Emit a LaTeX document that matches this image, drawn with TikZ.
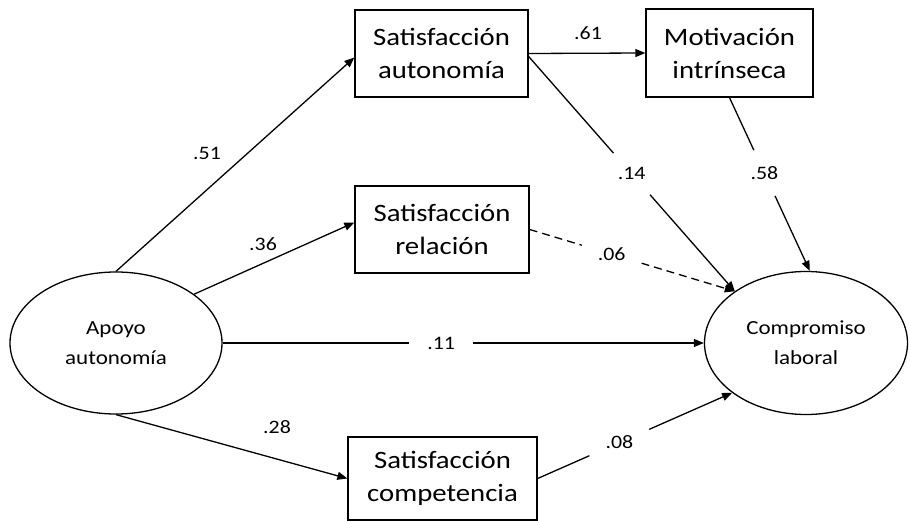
\documentclass[tikz,border=0pt]{standalone}
\usepackage{fontspec}
\setmainfont[FakeStretch=1.15]{Carlito}
\usetikzlibrary{arrows.meta,shapes.geometric}
\begin{document}
\begin{tikzpicture}[x=1pt,y=-1pt,
  box/.style={draw,line width=1.3pt,rectangle,inner sep=0pt,align=center,font=\fontsize{25}{33}\selectfont},
  lat/.style={draw,line width=1.3pt,ellipse,inner sep=0pt,align=center,font=\fontsize{20}{30}\selectfont},
  lbl/.style={font=\fontsize{19}{22}\selectfont,inner sep=0pt},
  gapnode/.style={circle,inner sep=0pt,minimum size=#1,font=\fontsize{19}{22}\selectfont},
  arr/.style={line width=1.3pt,-{Triangle[length=10pt,width=8pt]}},
  seg/.style={line width=1.3pt},
  dsh/.style={dash pattern=on 8pt off 5pt}
]
\useasboundingbox (0,0) rectangle (910,521);
\fill[white] (0,0) rectangle (910,521);

\node[lat,minimum width=212pt,minimum height=142pt] (apoyo) at (116,343) {Apoyo\\autonomía};
\node[lat,minimum width=203pt,minimum height=143pt] (comp) at (806,343) {Compromiso\\laboral};
\node[box,minimum width=173pt,minimum height=87pt] (sa) at (441.5,53.5) {Satisfacción\\autonomía};
\node[box,minimum width=167pt,minimum height=88pt] (mi) at (729.5,53) {Motivación\\intrínseca};
\node[box,minimum width=174pt,minimum height=87pt] (sr) at (442,229.5) {Satisfacción\\relación};
\node[box,minimum width=189pt,minimum height=83pt] (sc) at (442.5,478.5) {Satisfacción\\competencia};

% plain arrows with side labels
\draw[arr] (apoyo.north) -- ([yshift=-4pt]sa.west);
\node[lbl] (l51) at (207,153) {.51};
\draw[arr] (apoyo.32) -- ([yshift=7pt]sr.west);
\node[lbl] (l36) at (263,244) {.36};
\draw[arr] (apoyo.south) -- (sc.west);
\node[lbl] (l28) at (277,427) {.28};
\draw[arr] (sa.east) -- (mi.west);
\node[lbl] (l61) at (588,33) {.61};

% arrows with labels sitting in a gap
\path ([yshift=-3pt]sa.east) -- (comp.144) node[gapnode=55pt,pos=0.5] (l14) {.14};
\draw[seg] ([yshift=-3pt]sa.east) -- (l14);
\draw[arr] (l14) -- (comp.144);

\path (sr.east) -- (comp.144) node[gapnode=62pt,pos=0.4] (l06) {.06};
\draw[seg,dsh] (sr.east) -- (l06);
\draw[arr,dsh] (l06) -- (comp.144);

\path (mi.south) -- (comp.87) node[gapnode=50pt,pos=0.435] (l58) {.58};
\draw[seg] (mi.south) -- (l58);
\draw[arr] (l58) -- (comp.87);

\path (apoyo.east) -- (comp.west) node[gapnode=63pt,pos=0.454] (l11) {.11};
\draw[seg] (apoyo.east) -- (l11);
\draw[arr] (l11) -- (comp.west);

\path (sc.east) -- (comp.214) node[gapnode=65pt,pos=0.42] (l08) {.08};
\draw[seg] (sc.east) -- (l08);
\draw[arr] (l08) -- (comp.214);
\end{tikzpicture}
\end{document}
